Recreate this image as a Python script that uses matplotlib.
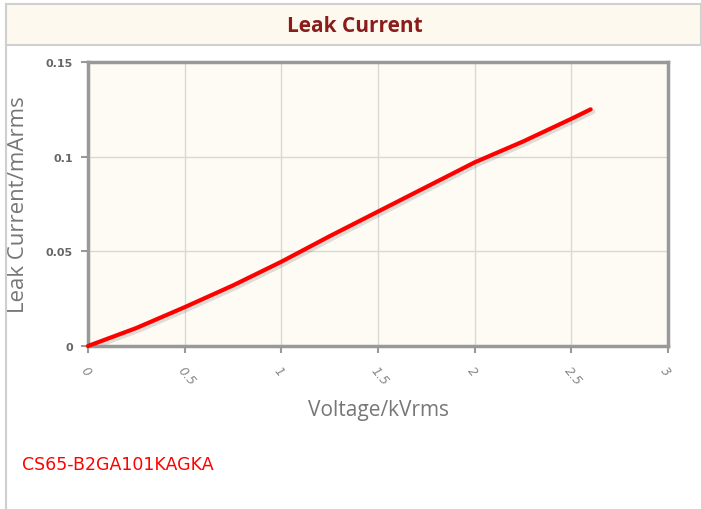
import matplotlib
matplotlib.use("Agg")
import matplotlib.pyplot as plt
from matplotlib.patches import Rectangle
from matplotlib.lines import Line2D

voltage = [0.0, 0.25, 0.5, 0.75, 1.0, 1.25, 1.5, 1.75, 2.0, 2.25, 2.5, 2.6]
leak = [0.0, 0.0095, 0.0205, 0.032, 0.0445, 0.058, 0.071, 0.084, 0.097, 0.108, 0.120, 0.125]
xticks = [0, 0.5, 1, 1.5, 2, 2.5, 3]
xticklabels = ["0", "0.5", "1", "1.5", "2", "2.5", "3"]
yticks = [0, 0.05, 0.1, 0.15]
yticklabels = ["0", "0.05", "0.1", "0.15"]

W, H = 701, 510
fig = plt.figure(figsize=(W / 100, H / 100), dpi=100)
fig.patch.set_facecolor("white")

# header band
fig.add_artist(Rectangle((6 / W, 1 - 46 / H), (W - 6) / W, 41 / H, transform=fig.transFigure,
                         facecolor="#fef9ee", edgecolor="#d0d0d0", linewidth=1.5))
fig.add_artist(Line2D([6 / W, 6 / W], [0, 1 - 5 / H], transform=fig.transFigure,
                      color="#cfcfcf", linewidth=1.5))
fig.text(355 / W, 1 - 26 / H, "Leak Current", ha="center", va="center",
         fontsize=15, fontweight="bold", color="#8b1c1c", family="Open Sans")

L, R, T, B = 88, 668, 63, 347
ax = fig.add_axes([L / W, 1 - B / H, (R - L) / W, (B - T) / H])
ax.set_facecolor("#fdfbf3")
ax.set_xlim(0, 3)
ax.set_ylim(0, 0.15)
ax.grid(True, color="#d8d8d8", linewidth=1)
ax.set_axisbelow(True)
for s in ax.spines.values():
    s.set_color("#999999")
    s.set_linewidth(2.5)
ax.set_xticks(xticks)
ax.set_xticklabels(xticklabels, rotation=-50, ha="left", va="top", rotation_mode="anchor",
                   fontstyle="italic", fontsize=9, color="#888888")
ax.set_yticks(yticks)
ax.set_yticklabels(yticklabels, fontsize=8, color="#666666", fontweight="bold")
ax.tick_params(axis="both", length=5, color="#999999", width=1.5)
ax.tick_params(axis="x", pad=8)
ax.tick_params(axis="y", pad=6)

# shadow line
ax.plot([v + 0.012 for v in voltage], [l - 0.0012 for l in leak], color="#000000", alpha=0.12,
        linewidth=3.5, solid_capstyle="round", zorder=2)
ax.plot(voltage, leak, color="#ff0000", linewidth=3, solid_capstyle="round", zorder=3, clip_on=False)

ax.set_xlabel("Voltage/kVrms", fontsize=15, color="#777777", labelpad=8, family="Open Sans")
ax.set_ylabel("Leak Current/mArms", fontsize=16, color="#777777", labelpad=12, family="Open Sans")

fig.text(22 / W, 1 - 465 / H, "CS65-B2GA101KAGKA", ha="left", va="center",
         fontsize=12.5, color="#ff0000", family="DejaVu Sans")

fig.savefig("out.png", dpi=100)
